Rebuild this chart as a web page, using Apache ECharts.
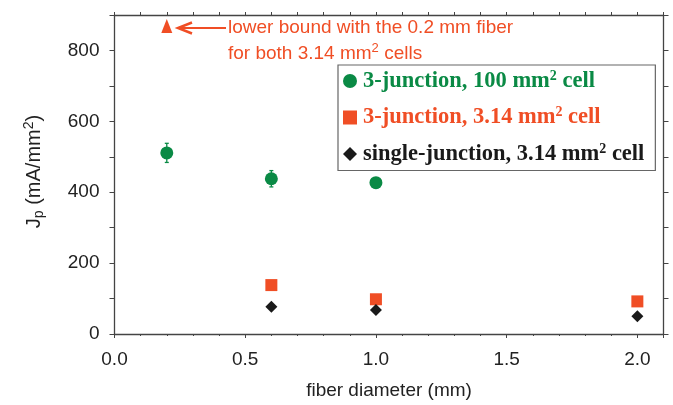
<!DOCTYPE html>
<html><head><meta charset="utf-8">
<script src="https://cdn.jsdelivr.net/npm/echarts@6/dist/echarts.min.js"></script>
<style>html,body{margin:0;padding:0;background:#fff}#c{width:673px;height:405px}</style>
</head><body><div id="c"></div>
<script>
// ---- data ----
const xTickLabels = ['0.0', '0.5', '1.0', '1.5', '2.0'];
const yTickLabels = ['0', '200', '400', '600', '800'];
const seriesNames = ['3-junction, 100 mm2 cell', '3-junction, 3.14 mm2 cell', 'single-junction, 3.14 mm2 cell'];
const green100X = [0.2, 0.6, 1.0];
const green100Y = [511, 438, 427];
const green100Err = [27, 23, 0];
const red314X = [0.6, 1.0, 2.0];
const red314Y = [138, 98, 92];
const black314X = [0.6, 1.0, 2.0];
const black314Y = [77, 68, 50];
const lowerBoundX = [0.2];
const lowerBoundY = [869];

const GREEN = '#0a8a45', RED = '#f04e25', BLACK = '#1a1a1a', AX = '#444';
const SANS = 'Liberation Sans, Arial, sans-serif';
const SERIF = 'Liberation Serif, Times New Roman, serif';

const chart = echarts.init(document.getElementById('c'), null, {renderer: 'canvas'});

const legendRich = {};
legendRich[seriesNames[0]] = '{g|3-junction, 100 mm}{gs|2}{g| cell}';
legendRich[seriesNames[1]] = '{r|3-junction, 3.14 mm}{rs|2}{r| cell}';
legendRich[seriesNames[2]] = '{k|single-junction, 3.14 mm}{ks|2}{k| cell}';
const LF = 22.5;
function base(c){return {color:c,fontFamily:SERIF,fontWeight:'bold',fontSize:LF,lineHeight:24};}
function sup(c){return {color:c,fontFamily:SERIF,fontWeight:'bold',fontSize:14,lineHeight:15,verticalAlign:'top'};}

const axisCommon = {
  min: 0, splitLine: {show: false},
  axisLine: {show: true, onZero: false, lineStyle: {color: AX, width: 1.3}},
};

const option = {
  animation: false,
  grid: {left: 114.5, right: 9.5, top: 15, bottom: 70, containLabel: false},
  xAxis: [
    Object.assign({}, axisCommon, {
      type: 'value', position: 'bottom', max: 2.1, interval: 0.1,
      axisTick: {show: true, length: 2, lineStyle: {color: AX}},
      axisLabel: {
        show: true, fontSize: 19, color: '#222', fontFamily: SANS, margin: 16,
        formatter: v => { const l = xTickLabels.find(t => Math.abs(parseFloat(t) - v) < 1e-6); return l || ''; }
      },
      name: 'fiber diameter (mm)', nameLocation: 'middle', nameGap: 47,
      nameTextStyle: {fontSize: 19, color: '#222', fontFamily: SANS}
    }),
    Object.assign({}, axisCommon, {
      type: 'value', position: 'bottom', max: 2.1, interval: 0.5,
      axisLine: {show: false}, axisLabel: {show: false},
      axisTick: {show: true, length: 4, lineStyle: {color: AX}}
    }),
    Object.assign({}, axisCommon, {
      type: 'value', position: 'top', max: 2.1, interval: 0.1,
      axisLabel: {show: false},
      axisTick: {show: true, length: 3, lineStyle: {color: AX}}
    })
  ],
  yAxis: [
    Object.assign({}, axisCommon, {
      type: 'value', position: 'left', max: 900, interval: 100,
      axisTick: {show: true, length: 5, lineStyle: {color: AX}},
      axisLabel: {
        show: true, fontSize: 19, color: '#222', fontFamily: SANS, margin: 15,
        formatter: v => { const l = yTickLabels.find(t => parseFloat(t) === v); return l || ''; }
      },
      name: '{a|J}{s|p}{a| (mA/mm}{u|2}{a|)}', nameLocation: 'middle', nameGap: 68,
      nameTextStyle: {
        fontSize: 20, color: '#222', fontFamily: SANS, padding: [0, 0, 0, 6],
        rich: {
          a: {fontSize: 20, color: '#222', fontFamily: SANS, lineHeight: 24},
          s: {fontSize: 14, color: '#222', fontFamily: SANS, lineHeight: 14, verticalAlign: 'bottom'},
          u: {fontSize: 14, color: '#222', fontFamily: SANS, lineHeight: 14, verticalAlign: 'top'}
        }
      }
    }),
    Object.assign({}, axisCommon, {
      type: 'value', position: 'right', max: 900, interval: 100,
      axisLabel: {show: false},
      axisTick: {show: true, length: 5, lineStyle: {color: AX}}
    })
  ],
  legend: {
    orient: 'vertical', left: 338, top: 65,
    backgroundColor: '#fff', borderColor: '#666', borderWidth: 1.2,
    padding: [4, 11, 5, 5], itemGap: 13, itemWidth: 14, itemHeight: 14,
    data: [
      {name: seriesNames[0], icon: 'circle'},
      {name: seriesNames[1], icon: 'rect'},
      {name: seriesNames[2], icon: 'diamond'}
    ],
    formatter: n => legendRich[n],
    textStyle: {
      fontFamily: SERIF, fontWeight: 'bold', fontSize: LF, padding: [0, 0, 0, 1],
      rich: {g: base(GREEN), gs: sup(GREEN), r: base(RED), rs: sup(RED), k: base(BLACK), ks: sup(BLACK)}
    }
  },
  series: [
    {
      type: 'custom', name: 'err', silent: true, z: 2,
      data: green100X.map((x, i) => [x, green100Y[i] - green100Err[i], green100Y[i] + green100Err[i]]),
      renderItem: (params, api) => {
        const p1 = api.coord([api.value(0), api.value(1)]);
        const p2 = api.coord([api.value(0), api.value(2)]);
        const st = {stroke: GREEN, lineWidth: 1.3};
        return {type: 'group', children: [
          {type: 'line', shape: {x1: p1[0], y1: p1[1], x2: p2[0], y2: p2[1]}, style: st},
          {type: 'line', shape: {x1: p1[0] - 2, y1: p1[1], x2: p1[0] + 2, y2: p1[1]}, style: st},
          {type: 'line', shape: {x1: p2[0] - 2, y1: p2[1], x2: p2[0] + 2, y2: p2[1]}, style: st}
        ]};
      }
    },
    {
      type: 'scatter', name: seriesNames[0], symbol: 'circle', symbolSize: 13, z: 3,
      itemStyle: {color: GREEN, opacity: 1}, data: green100X.map((x, i) => [x, green100Y[i]])
    },
    {
      type: 'scatter', name: seriesNames[1], symbol: 'rect', symbolSize: 12, z: 3,
      itemStyle: {color: RED, opacity: 1}, data: red314X.map((x, i) => [x, red314Y[i]])
    },
    {
      type: 'scatter', name: seriesNames[2], symbol: 'diamond', symbolSize: 12, z: 3,
      itemStyle: {color: BLACK, opacity: 1}, data: black314X.map((x, i) => [x, black314Y[i]])
    },
    {
      type: 'scatter', name: 'lower bound', symbol: 'triangle', symbolSize: [11, 14], z: 3,
      itemStyle: {color: RED, opacity: 1}, data: lowerBoundX.map((x, i) => [x, lowerBoundY[i]])
    }
  ],
  graphic: [
    {type: 'line', shape: {x1: 178, y1: 28, x2: 226, y2: 28}, style: {stroke: RED, lineWidth: 2.2}, z: 10},
    {type: 'polyline', shape: {points: [[192, 22.5], [178, 28], [192, 33.5]]}, style: {stroke: RED, lineWidth: 2.5, fill: null}, z: 10},
    {type: 'text', left: 228, top: 18, z: 10,
      style: {text: 'lower bound with the 0.2 mm fiber', fill: RED, font: '19px ' + SANS}},
    {type: 'text', left: 228, top: 42, z: 10,
      style: {text: '{a|for both 3.14 mm}{s|2}{a| cells}', fill: RED,
        rich: {a: {fontSize: 19, fontFamily: SANS, fill: RED, color: RED, lineHeight: 24},
               s: {fontSize: 13, fontFamily: SANS, fill: RED, color: RED, lineHeight: 14, verticalAlign: 'top'}}}}
  ]
};
chart.setOption(option);
</script>
</body></html>
